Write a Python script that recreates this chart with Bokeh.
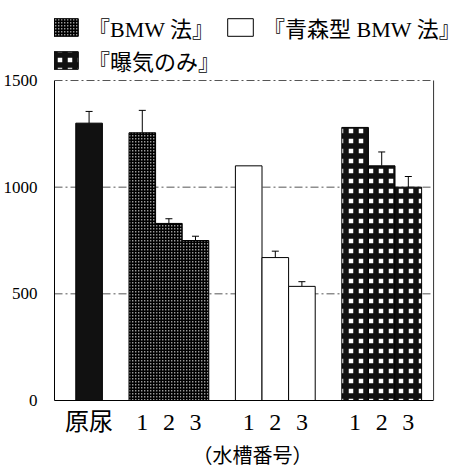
from bokeh.plotting import figure
from bokeh.models import (ColumnDataSource, Whisker, TeeHead, FixedTicker,
                          Legend, LegendItem, Range1d, Title)
from bokeh.embed import file_html
from bokeh.resources import INLINE

# ---- data ----
group_names = ["原尿", "『BMW 法』", "『青森型 BMW 法』", "『曝気のみ』"]
tank_labels = [["原尿"], ["1", "2", "3"], ["1", "2", "3"], ["1", "2", "3"]]
raw_values = [1300]
raw_errors = [55]
bmw_values = [1255, 830, 750]
bmw_errors = [105, 22, 20]
aomori_values = [1100, 670, 535]
aomori_errors = [0, 30, 22]
aeration_values = [1280, 1100, 1000]
aeration_errors = [0, 65, 50]
y_ticks = [0, 500, 1000, 1500]
x_title = "（水槽番号）"

values = [raw_values, bmw_values, aomori_values, aeration_values]
errors = [raw_errors, bmw_errors, aomori_errors, aeration_errors]

# ---- styles ----
styles = [
    dict(fill_color="#111111"),
    dict(fill_color="#9a9a9a", hatch_pattern="+", hatch_color="#000000",
         hatch_scale=3, hatch_weight=2.2),
    dict(fill_color="white"),
    dict(fill_color="white", hatch_pattern="+", hatch_color="#111111",
         hatch_scale=10, hatch_weight=5.5),
]
SERIF = "Liberation Serif, Noto Sans CJK JP"

# ---- layout geometry ----
W, H = 470, 468
LEFT, BOTTOM = 53, 68
X0, X1 = -0.3, 13.95          # visible bar area (box)
BOX_W_PX = 380                # pixel width of the box
Y_MAX = 1500
BOX_H_PX = 320                # pixel height of 0..1500
x_end = X0 + (W - LEFT) * (X1 - X0) / BOX_W_PX
y_end = Y_MAX * (H - BOTTOM) / BOX_H_PX

p = figure(width=W, height=H, output_backend="svg", toolbar_location=None,
           x_range=Range1d(X0, x_end), y_range=Range1d(0, y_end),
           min_border_left=LEFT, min_border_right=0, min_border_top=0,
           min_border_bottom=BOTTOM)
p.outline_line_color = None
p.background_fill_color = "white"
p.border_fill_color = "white"
p.xgrid.visible = False
p.ygrid.visible = False

# dashed grid lines + right border of the box
grid_y = y_ticks[1:]
p.segment(x0=[X0] * len(grid_y), y0=grid_y, x1=[X1] * len(grid_y), y1=grid_y,
          line_color="#555555", line_width=1, line_dash="8 3 2 3",
          level="underlay")
p.segment(x0=[X1], y0=[0], x1=[X1], y1=[Y_MAX], line_color="#333333",
          line_width=1)

centers, labels = [], []
renderers = []
pos = 1
for gi, (vals, errs) in enumerate(zip(values, errors)):
    xs = []
    for j, v in enumerate(vals):
        xs.append(pos)
        centers.append(pos)
        labels.append(tank_labels[gi][j])
        pos += 1
    pos += 1
    src = ColumnDataSource(dict(x=xs, top=vals))
    r = p.vbar(x="x", top="top", width=1.0, source=src, line_color="black",
               line_width=1, **styles[gi])
    renderers.append(r)
    ex = [x for x, e in zip(xs, errs) if e > 0]
    elo = [v for v, e in zip(vals, errs) if e > 0]
    ehi = [v + e for v, e in zip(vals, errs) if e > 0]
    if ex:
        esrc = ColumnDataSource(dict(base=ex, lower=elo, upper=ehi))
        w = Whisker(base="base", lower="lower", upper="upper", source=esrc,
                    line_color="black", line_width=1,
                    upper_head=TeeHead(size=7, line_color="black", line_width=1),
                    lower_head=None)
        p.add_layout(w)

# y axis
p.yaxis.bounds = (0, Y_MAX)
p.yaxis.ticker = FixedTicker(ticks=y_ticks)
p.yaxis.major_tick_line_color = None
p.yaxis.minor_tick_line_color = None
p.yaxis.major_label_standoff = 11
p.yaxis.major_label_text_font = "Liberation Serif"
p.yaxis.major_label_text_font_size = "17px"
p.yaxis.major_label_text_color = "black"
p.yaxis.axis_line_color = "black"

# x axis
p.xaxis.bounds = (X0, X1)
p.xaxis.ticker = FixedTicker(ticks=centers)
p.xaxis.major_label_overrides = {c: l for c, l in zip(centers, labels)}
p.xaxis.major_tick_line_color = None
p.xaxis.minor_tick_line_color = None
p.xaxis.major_label_standoff = 2
p.xaxis.major_label_text_font = SERIF
p.xaxis.major_label_text_font_size = "24px"
p.xaxis.major_label_text_color = "black"
p.xaxis.axis_line_color = "black"

# x axis title, centred under the box (not the wider frame)
box_center_px = BOX_W_PX / 2
title_w_px = 5 * 20
p.add_layout(Title(text=x_title, align="left",
                   offset=box_center_px - title_w_px / 2 - 2,
                   text_font="Noto Sans CJK JP", text_font_size="20px",
                   text_font_style="normal", text_color="black",
                   standoff=0), "below")

# legends (above the box, inside the frame)
common = dict(orientation="horizontal", padding=0, margin=0, spacing=10,
              label_standoff=7, glyph_width=32, glyph_height=22,
              border_line_color=None, background_fill_alpha=0,
              label_text_font=SERIF, label_text_font_size="22px",
              label_text_color="black")
leg1 = Legend(items=[LegendItem(label=group_names[1], renderers=[renderers[1]]),
                     LegendItem(label=group_names[2], renderers=[renderers[2]])],
              location=(-5, 357), **common)
leg2 = Legend(items=[LegendItem(label=group_names[3], renderers=[renderers[3]])],
              location=(-5, 324), **common)
p.add_layout(leg1)
p.add_layout(leg2)

open("out.html", "w").write(file_html(p, INLINE))
